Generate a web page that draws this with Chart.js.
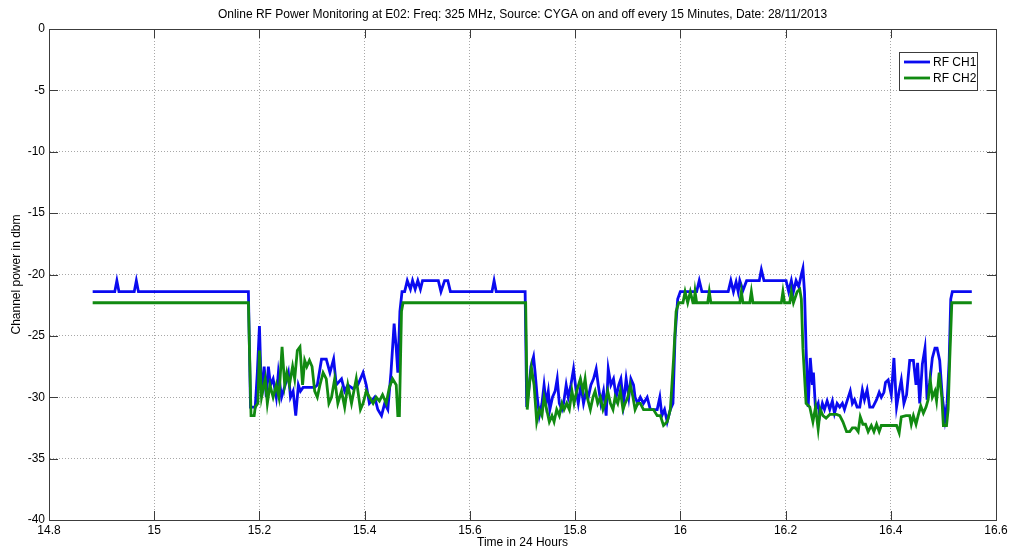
<!DOCTYPE html>
<html>
<head>
<meta charset="utf-8">
<script src="https://cdn.jsdelivr.net/npm/chart.js@4.4.1/dist/chart.umd.min.js"></script>
<style>
    html, body { margin: 0; padding: 0; background: #ffffff; }
    #rfChart { display: block; }
</style>
</head>
<body>
<canvas id="rfChart" width="1011" height="550"></canvas>
<script>
// ---- texts ----
const chartTitle = 'Online RF Power Monitoring at E02: Freq: 325 MHz, Source: CYGA on and off every 15 Minutes, Date: 28/11/2013';
const xAxisTitle = 'Time in 24 Hours';
const yAxisTitle = 'Channel power in dbm';
const seriesNames = ['RF CH1', 'RF CH2'];

// ---- axis ranges ----
const xRange = [14.8, 16.6];
const xStep = 0.2;
const yRange = [-40, 0];
const yStep = 5;

// ---- RF CH1 (hours / dBm) ----
const ch1Time = [
    14.883, 14.925, 14.929, 14.933, 14.962, 14.966, 14.970, 15.179,
    15.183, 15.192, 15.196, 15.200, 15.204, 15.209, 15.213, 15.217, 15.221, 15.226, 15.232, 15.236,
    15.242, 15.249, 15.255, 15.259, 15.264, 15.269, 15.274, 15.278, 15.283, 15.305, 15.310, 15.318,
    15.327, 15.334, 15.341, 15.346, 15.356, 15.362, 15.368, 15.378, 15.387, 15.397, 15.403, 15.409,
    15.419, 15.425, 15.432, 15.438, 15.444, 15.450, 15.456, 15.460, 15.463, 15.467, 15.471, 15.476,
    15.481, 15.487, 15.491, 15.496, 15.501, 15.506, 15.510, 15.540, 15.545, 15.552, 15.558, 15.563,
    15.642, 15.646, 15.650, 15.705,
    15.708, 15.713, 15.716, 15.721, 15.724, 15.728, 15.732, 15.737, 15.741, 15.745, 15.749, 15.752,
    15.757, 15.762, 15.766, 15.770, 15.775, 15.778, 15.783, 15.787, 15.792, 15.797, 15.802, 15.806,
    15.811, 15.816, 15.821, 15.825, 15.830, 15.835, 15.840, 15.844, 15.849, 15.854, 15.859, 15.863,
    15.868, 15.873, 15.878, 15.883, 15.887, 15.892, 15.897, 15.902, 15.906, 15.911, 15.914, 15.919,
    15.924, 15.930, 15.937, 15.943, 15.956, 15.961, 15.965, 15.970, 15.975, 15.981, 15.986, 15.990,
    15.995, 16.000,
    16.031, 16.036, 16.041, 16.091, 16.096, 16.101, 16.106, 16.110, 16.113, 16.119, 16.126, 16.150,
    16.154, 16.159, 16.201, 16.206, 16.211, 16.215, 16.220, 16.225, 16.230, 16.233, 16.236,
    16.239, 16.243, 16.247, 16.251, 16.253, 16.257, 16.262, 16.265, 16.270, 16.274, 16.279, 16.284,
    16.289, 16.293, 16.298, 16.303, 16.308, 16.312, 16.317, 16.323, 16.327, 16.331, 16.336, 16.341,
    16.346, 16.350, 16.355, 16.360, 16.366, 16.373, 16.378, 16.382, 16.387, 16.390, 16.395, 16.401,
    16.406, 16.411, 16.416, 16.420, 16.425, 16.430, 16.436, 16.443, 16.448, 16.451, 16.455, 16.460,
    16.465, 16.469, 16.474, 16.479, 16.484, 16.488, 16.493, 16.498, 16.503, 16.507, 16.511, 16.514,
    16.517, 16.554,
];
const ch1Power = [
    -21.4, -21.4, -20.5, -21.4, -21.4, -20.5, -21.4, -21.4,
    -30.8, -30.8, -28, -24.2, -30, -27.5, -30, -27.5, -29, -28.5, -30, -28,
    -30, -29, -28, -30, -29.5, -31.5, -29, -29.5, -29.2, -29.2, -29, -26.9,
    -26.9, -28, -26.9, -29, -28.5, -29.5, -29, -29.3, -29, -28, -29, -30.5,
    -30, -31, -31.5, -30.5, -31, -28, -24, -26, -28, -23, -21.4, -21.4,
    -20.5, -21.2, -20.5, -21.2, -20.5, -21.2, -20.5, -20.5, -21.4, -20.5, -20.5, -21.4,
    -21.4, -20.5, -21.4, -21.4,
    -30.8, -29, -27.5, -26.7, -28, -30, -31.5, -30.5, -29, -30.5, -29.5, -31,
    -30, -29.5, -28.5, -30.5, -31, -30.5, -29, -30, -29, -27.7, -29.5, -30.5,
    -29, -30.5, -29.5, -30, -29, -28.5, -27.7, -29, -30.5, -29.5, -31.5, -27.7,
    -29, -28.5, -30, -29, -28.5, -30.5, -28.5, -30, -28.5, -29, -30, -30.5,
    -30, -30.5, -30, -31, -31, -30, -31.5, -31, -32, -31, -30.5, -25,
    -22, -21.4,
    -21.4, -20.5, -21.4, -21.4, -20.5, -21.4, -20.6, -21.4, -20.5, -21.3, -20.5, -20.5,
    -19.6, -20.5, -20.5, -21.4, -20.5, -21.4, -20.5, -21, -20, -19.5, -21.4,
    -26, -30.8, -26.8, -29, -28, -31, -30.5, -31.5, -30.5, -31, -30.3, -31,
    -30.3, -31.3, -30.5, -30.8, -30.5, -31, -30.3, -29.5, -30.5, -30.2, -30.8, -30.8,
    -29.4, -30.2, -29.4, -30.8, -30.8, -30.2, -29.6, -30, -29.6, -28.8, -28.6, -29.8,
    -26.8, -30.8, -29.5, -28.6, -30.5, -29.8, -27, -27, -29, -27.2, -30.5, -27.3,
    -26, -30.2, -28.8, -26.8, -26, -26, -27, -30, -31.8, -30.5, -27, -22,
    -21.4, -21.4,
];

// ---- RF CH2 (hours / dBm) ----
const ch2Time = [
    14.883, 15.179,
    15.184, 15.190, 15.192, 15.197, 15.200, 15.204, 15.211, 15.215, 15.220, 15.226, 15.232, 15.237,
    15.243, 15.248, 15.252, 15.257, 15.263, 15.267, 15.272, 15.277, 15.282, 15.286, 15.290, 15.295,
    15.300, 15.305, 15.310, 15.315, 15.321, 15.327, 15.332, 15.337, 15.343, 15.349, 15.356, 15.362,
    15.368, 15.375, 15.384, 15.392, 15.397, 15.403, 15.409, 15.416, 15.422, 15.428, 15.434, 15.441,
    15.447, 15.453, 15.460, 15.463, 15.466, 15.470, 15.473, 15.706,
    15.709, 15.713, 15.717, 15.722, 15.727, 15.732, 15.737, 15.741, 15.746, 15.751, 15.756, 15.760,
    15.765, 15.770, 15.775, 15.779, 15.784, 15.789, 15.794, 15.798, 15.803, 15.810, 15.815, 15.819,
    15.823, 15.829, 15.834, 15.838, 15.843, 15.848, 15.853, 15.857, 15.862, 15.867, 15.872, 15.876,
    15.881, 15.886, 15.891, 15.895, 15.900, 15.905, 15.910, 15.914, 15.919, 15.924, 15.930, 15.949,
    15.956, 15.962, 15.968, 15.975, 15.981, 15.987, 15.992, 15.997,
    16.005, 16.009, 16.014, 16.019, 16.024, 16.026, 16.028, 16.031, 16.052, 16.055, 16.058, 16.113,
    16.116, 16.119, 16.132, 16.135, 16.138, 16.192, 16.195, 16.198, 16.208, 16.211, 16.215, 16.222,
    16.227, 16.230, 16.233,
    16.239, 16.246, 16.252, 16.257, 16.262, 16.266, 16.271, 16.277, 16.284, 16.290, 16.297, 16.303,
    16.309, 16.316, 16.322, 16.327, 16.333, 16.338, 16.342, 16.347, 16.352, 16.357, 16.363, 16.368,
    16.373, 16.378, 16.382, 16.389, 16.395, 16.404, 16.411, 16.416, 16.420, 16.429, 16.436, 16.439,
    16.443, 16.448, 16.452, 16.457, 16.462, 16.467, 16.471, 16.475, 16.479, 16.484, 16.487, 16.492,
    16.497, 16.500, 16.506, 16.509, 16.512, 16.516, 16.554,
];
const ch2Power = [
    -22.3, -22.3,
    -31.5, -31.5, -30.8, -30.5, -26.2, -30, -28.5, -30.5, -29, -30, -29, -30,
    -25.9, -29, -28, -29, -27.5, -28.5, -26.2, -25.9, -29, -27, -27.5, -27,
    -27.5, -29.5, -30, -29, -28, -28.5, -30.5, -30, -28.5, -30.5, -29.5, -30.8,
    -29, -30.5, -28.5, -31, -30.5, -29.5, -30, -30.5, -30, -30.3, -29.8, -30.5,
    -29.2, -28.5, -29, -31.5, -31.5, -23, -22.3, -22.3,
    -31, -29, -27.6, -29, -32, -31, -31.5, -30, -31, -32, -31.5, -32,
    -31, -31.5, -30.5, -31, -30.5, -31, -29.5, -30.5, -29.5, -28.5, -29.5, -28.5,
    -30, -31, -30, -29.5, -30.5, -30, -31, -30.5, -29.5, -30.5, -31, -30,
    -30.5, -29.5, -31, -30.5, -30, -29, -30, -31, -30.5, -30.5, -31, -31,
    -31.5, -31.5, -32.3, -32, -31, -27, -23, -22.3,
    -22.3, -21.4, -22.3, -21.4, -22.3, -22.3, -21.4, -22.3, -22.3, -21.4, -22.3, -22.3,
    -21.4, -22.3, -22.3, -21.4, -22.3, -22.3, -21.4, -22.3, -22.3, -21.4, -22.3, -21.4,
    -21.2, -22, -26,
    -30.5, -30.8, -32, -30.8, -32.6, -31, -31.5, -31.7, -31.4, -31.4, -31.4, -31.5,
    -32, -32.8, -32.8, -32.5, -32.5, -32.8, -31.6, -32.2, -32.2, -32.8, -32.3, -32.8,
    -32.2, -32.8, -32.3, -32.3, -32.3, -32.3, -32.3, -32.9, -31.6, -31.5, -31.5, -32.2,
    -31.5, -32.2, -31.5, -30.7, -31.3, -30.8, -30.2, -28.6, -30, -29.5, -30.3, -28,
    -30, -32.3, -32.3, -31, -27, -22.3, -22.3,
];

const seriesColors = ['#0a0af0', '#118a11'];
const axisColor = '#3c3c3c';
const gridColor = '#a8a8a8';
const fontFamily = "'Liberation Sans', Arial, Helvetica, sans-serif";

/**
 * build {x, y} points from a time and a power array
 */
function toPoints(times, values) {
    return times.map((t, i) => ({ x: t, y: values[i] }));
}

// MATLAB like decoration: frame, inward ticks, titles and legend
const matlabFrame = {
    id: 'matlabFrame',
    afterDraw: (chart) => {
        const ctx = chart.ctx;
        const { left, right, top, bottom } = chart.chartArea;
        const xScale = chart.scales.x;
        const yScale = chart.scales.y;
        const tickLen = 9;

        ctx.save();
        ctx.strokeStyle = axisColor;
        ctx.lineWidth = 1;

        // box
        ctx.strokeRect(Math.round(left) + 0.5, Math.round(top) + 0.5, Math.round(right - left), Math.round(bottom - top));

        // inward ticks
        ctx.beginPath();
        xScale.ticks.forEach((tick) => {
            const px = Math.round(xScale.getPixelForValue(tick.value)) + 0.5;
            ctx.moveTo(px, bottom);
            ctx.lineTo(px, bottom - tickLen);
            ctx.moveTo(px, top);
            ctx.lineTo(px, top + tickLen);
        });
        yScale.ticks.forEach((tick) => {
            const py = Math.round(yScale.getPixelForValue(tick.value)) + 0.5;
            ctx.moveTo(left, py);
            ctx.lineTo(left + tickLen, py);
            ctx.moveTo(right, py);
            ctx.lineTo(right - tickLen, py);
        });
        ctx.stroke();

        // titles
        ctx.fillStyle = '#000000';
        ctx.font = `12px ${fontFamily}`;
        ctx.textAlign = 'center';
        ctx.textBaseline = 'middle';
        ctx.fillText(chartTitle, (left + right) / 2, 15);
        ctx.fillText(xAxisTitle, (left + right) / 2, 543);
        ctx.save();
        ctx.translate(17, (top + bottom) / 2);
        ctx.rotate(-Math.PI / 2);
        ctx.fillText(yAxisTitle, 0, 0);
        ctx.restore();

        // legend
        const box = { x: 899, y: 52, w: 78, h: 38 };
        ctx.fillStyle = '#ffffff';
        ctx.fillRect(box.x, box.y, box.w, box.h);
        ctx.strokeStyle = axisColor;
        ctx.strokeRect(box.x + 0.5, box.y + 0.5, box.w, box.h);
        ctx.textAlign = 'left';
        seriesNames.forEach((name, i) => {
            const rowY = box.y + 10 + i * 16;
            ctx.strokeStyle = seriesColors[i];
            ctx.lineWidth = 2.8;
            ctx.beginPath();
            ctx.moveTo(box.x + 5, rowY);
            ctx.lineTo(box.x + 31, rowY);
            ctx.stroke();
            ctx.fillStyle = '#000000';
            ctx.fillText(name, box.x + 34, rowY + 1);
        });
        ctx.restore();
    },
};

new Chart(document.getElementById('rfChart').getContext('2d'), {
    type: 'line',
    data: {
        datasets: [
            {
                label: seriesNames[0],
                data: toPoints(ch1Time, ch1Power),
                borderColor: seriesColors[0],
                borderWidth: 2.8,
                pointRadius: 0,
                tension: 0,
                order: 1,
            },
            {
                label: seriesNames[1],
                data: toPoints(ch2Time, ch2Power),
                borderColor: seriesColors[1],
                borderWidth: 2.8,
                pointRadius: 0,
                tension: 0,
                order: 0,
            },
        ],
    },
    options: {
        responsive: false,
        animation: false,
        devicePixelRatio: 1,
        layout: { padding: { left: 0, right: 15, top: 29, bottom: 0 } },
        plugins: {
            legend: { display: false },
            tooltip: { enabled: false },
            title: { display: false },
        },
        scales: {
            x: {
                type: 'linear',
                min: xRange[0],
                max: xRange[1],
                afterFit: (scale) => { scale.height = 30; },
                ticks: {
                    stepSize: xStep,
                    color: '#000000',
                    font: { family: fontFamily, size: 12 },
                    padding: 3,
                    maxRotation: 0,
                    autoSkip: false,
                    callback: (value) => Number(value.toFixed(1)).toString(),
                },
                grid: { color: gridColor, drawTicks: false },
                // in v4 the border dash also styles the grid lines
                border: { display: true, color: axisColor, dash: [1, 2] },
            },
            y: {
                min: yRange[0],
                max: yRange[1],
                afterFit: (scale) => { scale.width = 49; },
                ticks: {
                    stepSize: yStep,
                    color: '#000000',
                    font: { family: fontFamily, size: 12 },
                    padding: 4,
                },
                grid: { color: gridColor, drawTicks: false },
                border: { display: true, color: axisColor, dash: [1, 2] },
            },
        },
    },
    plugins: [matlabFrame],
});
</script>
</body>
</html>
